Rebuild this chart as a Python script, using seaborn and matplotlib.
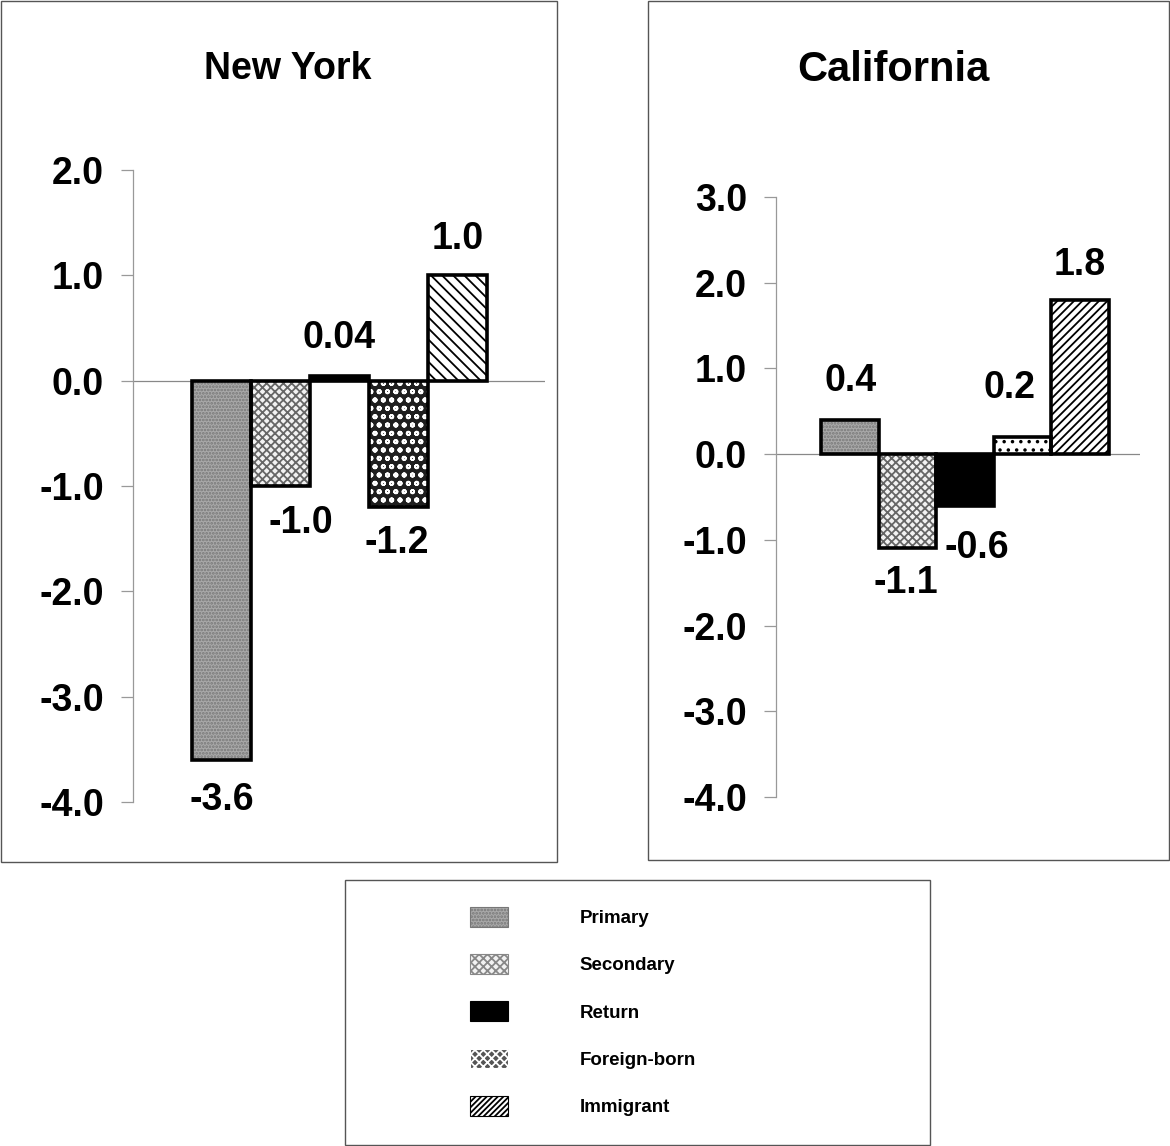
import matplotlib.pyplot as plt
import seaborn as sns
from matplotlib.patches import Rectangle, Patch

sns.set_style("white")
plt.rcParams['font.family'] = ['Liberation Sans', 'DejaVu Sans']
plt.rcParams['font.weight'] = 'bold'
plt.rcParams['text.color'] = 'black'
plt.rcParams['ytick.labelcolor'] = 'black'
plt.rcParams['hatch.linewidth'] = 1.3

categories = ['Primary', 'Secondary', 'Return', 'Foreign-born', 'Immigrant']
ny_values = [-3.6, -1.0, 0.04, -1.2, 1.0]
ny_labels = ['-3.6', '-1.0', '0.04', '-1.2', '1.0']
ca_values = [0.4, -1.1, -0.6, 0.2, 1.8]
ca_labels = ['0.4', '-1.1', '-0.6', '0.2', '1.8']
ny_ticks = [2.0, 1.0, 0.0, -1.0, -2.0, -3.0, -4.0]
ca_ticks = [3.0, 2.0, 1.0, 0.0, -1.0, -2.0, -3.0, -4.0]

# bar styles: (facecolor, hatch, hatch colour)
ny_styles = [('#a9a9a9', '.....', '#777777'),
             ('#f2f2f2', 'xxxx', '#666666'),
             ('black', '', 'black'),
             ('#1e1e1e', 'oo', 'white'),
             ('white', '\\\\\\', 'black')]
ca_styles = [('#a9a9a9', '.....', '#777777'),
             ('#f2f2f2', 'xxxx', '#666666'),
             ('black', '', 'black'),
             ('white', '..', 'black'),
             ('white', '////', 'black')]
legend_styles = [('#a9a9a9', '.....', '#777777'),
                 ('#f2f2f2', 'xxxx', '#888888'),
                 ('black', '', 'black'),
                 ('#555555', 'xxxx', 'white'),
                 ('white', '//////', 'black')]

# label offsets in pixels (dx, dy)
ny_offsets = [(0, -40), (20, -37), (0, 38), (-2, -36), (0, 36)]
ca_offsets = [(0, 39), (-2, -35), (12, -42), (-13, 49), (0, 35)]

fig = plt.figure(figsize=(11.7, 11.46), dpi=100)
W, H = 1170, 1146


def px_axes(x0, y0, x1, y1):
    return fig.add_axes([x0 / W, 1 - y1 / H, (x1 - x0) / W, (y1 - y0) / H])


def draw_panel(ax, values, labels, styles, offsets, ticks, ylim, xlim):
    sns.barplot(x=categories, y=values, order=categories, width=1.0, ax=ax,
                color='white', saturation=1)
    for p, (fc, hatch, hc), val, lab, (dx, dy) in zip(ax.patches, styles, values, labels, offsets):
        p.set_facecolor(fc)
        p.set_hatch(hatch)
        p.set_edgecolor(hc)
        p.set_linewidth(0)
        ax.add_patch(Rectangle(p.get_xy(), p.get_width(), p.get_height(),
                               fill=False, edgecolor='black', lw=2.6, zorder=3))
        cx = p.get_x() + p.get_width() / 2
        ax.annotate(lab, (cx, val), xytext=(dx, dy), textcoords='offset pixels',
                    ha='center', va='center', fontsize=27, fontweight='bold')
    ax.axhline(0, color='#888888', lw=0.9, zorder=0)
    ax.set_ylim(*ylim)
    ax.set_xlim(*xlim)
    ax.set_yticks(ticks)
    ax.set_yticklabels([f'{t:.1f}' for t in ticks], fontsize=27, fontweight='bold')
    ax.set_xticks([])
    ax.set_xlabel('')
    ax.set_ylabel('')
    for s in ['top', 'right', 'bottom']:
        ax.spines[s].set_visible(False)
    ax.spines['left'].set_color('#999999')
    ax.spines['left'].set_linewidth(0.9)
    ax.tick_params(axis='y', direction='out', length=9, width=0.9, color='#999999', pad=12, left=True)


ax1 = px_axes(133, 170, 545, 802)
draw_panel(ax1, ny_values, ny_labels, ny_styles, ny_offsets, ny_ticks, (-4.0, 2.0),
           (-1.5, -1.5 + 412 / 59))
fig.text(288 / W, 1 - 69 / H, 'New York', ha='center', va='center', fontsize=27, fontweight='bold')

ax2 = px_axes(776, 197, 1140, 797)
draw_panel(ax2, ca_values, ca_labels, ca_styles, ca_offsets, ca_ticks, (-4.0, 3.0),
           (-1.29, -1.29 + 364 / 57.5))
fig.text(893 / W, 1 - 70 / H, 'California', ha='center', va='center', fontsize=30, fontweight='bold')

# panel frames
for (x0, y0, x1, y1) in [(1, 1, 557, 862), (648, 1, 1169, 860), (345, 880, 930, 1145)]:
    fig.add_artist(Rectangle((x0 / W, 1 - y1 / H), (x1 - x0) / W, (y1 - y0) / H,
                             transform=fig.transFigure, fill=False,
                             edgecolor='#555555', lw=1.0))

handles = [Patch(facecolor=fc, hatch=h, edgecolor=hc, lw=0.8) for fc, h, hc in legend_styles]
leg = fig.legend(handles, categories, loc='upper left', bbox_to_anchor=(453 / W, 1 - 890 / H),
                 frameon=False, prop={'size': 13.5, 'weight': 'bold'},
                 handlelength=2.05, handleheight=1.25, handletextpad=3.8, labelspacing=1.44)

fig.savefig('out.png', dpi=100)
